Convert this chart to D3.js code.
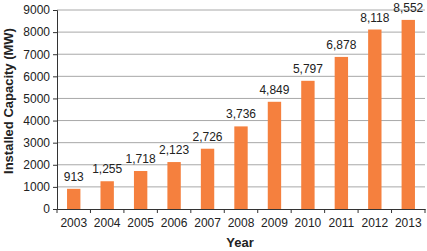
<!DOCTYPE html>
<html lang="en">
<head>
<meta charset="UTF-8"/>
<title>Installed Capacity</title>
<script src="https://d3js.org/d3.v7.min.js"></script>
<style>
  body { margin: 0; background: #fff; }
  text { font-family: "Liberation Sans", Arial, sans-serif; }
</style>
</head>
<body>
<script>
var w = 427;
var h = 251;

var years = ["2003","2004","2005","2006","2007","2008","2009","2010","2011","2012","2013"];
var capacity = [913, 1255, 1718, 2123, 2726, 3736, 4849, 5797, 6878, 8118, 8552];
var yTicks = [0, 1000, 2000, 3000, 4000, 5000, 6000, 7000, 8000, 9000];

var padL = 57, padR = 425, padT = 10, padB = 209;

var xScale = d3.scaleBand()
    .domain(years)
    .range([padL, padR])
    .paddingInner(0.6)
    .paddingOuter(0.3);

var yScale = d3.scaleLinear()
    .domain([0, 9000])
    .range([padB, padT]);

var svg = d3.select("body")
    .append("svg")
    .attr("width", w)
    .attr("height", h);

// gridlines
svg.selectAll("line.grid")
    .data(yTicks.slice(1))
    .enter()
    .append("line")
    .attr("class", "grid")
    .attr("x1", padL)
    .attr("x2", padR)
    .attr("y1", d => yScale(d))
    .attr("y2", d => yScale(d))
    .attr("stroke", "#a8a8a8")
    .attr("stroke-width", 1);

// bars
svg.selectAll("rect")
    .data(capacity)
    .enter()
    .append("rect")
    .attr("x", (d, i) => xScale(years[i]))
    .attr("y", d => yScale(d))
    .attr("width", xScale.bandwidth())
    .attr("height", d => padB - yScale(d))
    .attr("fill", "#f5803e");

// value labels
svg.selectAll("text.val")
    .data(capacity)
    .enter()
    .append("text")
    .attr("class", "val")
    .text(d => d3.format(",")(d))
    .attr("x", (d, i) => xScale(years[i]) + xScale.bandwidth() / 2)
    .attr("y", d => yScale(d) - 8)
    .attr("text-anchor", "middle")
    .attr("font-size", "12px")
    .attr("fill", "#222");

// y axis
var yAxis = d3.axisLeft(yScale).tickValues(yTicks).tickSize(4).tickFormat(d3.format("d"));
var gy = svg.append("g").attr("transform", "translate(" + padL + ",0)").call(yAxis);
gy.select(".domain").attr("stroke", "#333");
gy.selectAll(".tick line").attr("stroke", "#333");
gy.selectAll("text").attr("font-size", "12px").attr("fill", "#222")
    .attr("font-family", "Liberation Sans, Arial, sans-serif");

// x axis with boundary ticks
var xAxis = d3.axisBottom(xScale).tickSize(0).tickPadding(9);
var gx = svg.append("g").attr("transform", "translate(0," + padB + ")").call(xAxis);
gx.select(".domain").attr("stroke", "#333");
gx.selectAll("text").attr("font-size", "12px").attr("fill", "#222")
    .attr("font-family", "Liberation Sans, Arial, sans-serif");
var step = xScale.step();
gx.selectAll("line.bnd")
    .data(d3.range(years.length + 1))
    .enter()
    .append("line")
    .attr("class", "bnd")
    .attr("x1", i => padL + i * step)
    .attr("x2", i => padL + i * step)
    .attr("y1", 0)
    .attr("y2", 4)
    .attr("stroke", "#333");

// axis titles
svg.append("text")
    .text("Year")
    .attr("x", 240)
    .attr("y", 247)
    .attr("text-anchor", "middle")
    .attr("font-size", "13px")
    .attr("font-weight", "bold")
    .attr("fill", "#222");

svg.append("text")
    .text("Installed Capacity (MW)")
    .attr("transform", "translate(13,101) rotate(-90)")
    .attr("text-anchor", "middle")
    .attr("font-size", "13px")
    .attr("font-weight", "bold")
    .attr("fill", "#222");
</script>
</body>
</html>
